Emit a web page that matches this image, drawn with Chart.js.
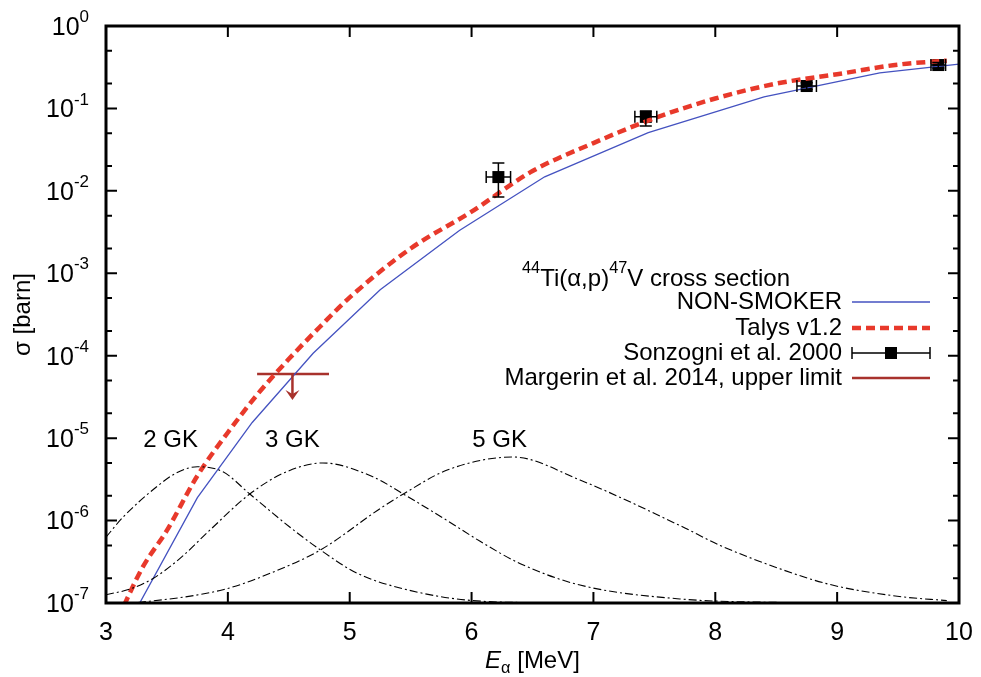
<!DOCTYPE html>
<html>
<head>
<meta charset="utf-8">
<script src="https://cdn.jsdelivr.net/npm/chart.js@4.4.0/dist/chart.umd.min.js"></script>
<style>
  body { margin: 0; background: #fff; }
  #wrap { width: 981px; height: 677px; }
</style>
</head>
<body>
<div id="wrap"><canvas id="myChart"></canvas></div>
<script>
// NON-SMOKER calculation (thin blue line)
var nsEnergy = [3.2, 3.75, 4.2, 4.7, 5.25, 5.9, 6.6, 7.45, 8.4, 9.35, 10.0];
var nsSigma = [6.2e-8, 1.9e-6, 1.55e-5, 1.07e-4, 6.3e-4, 3.3e-3, 1.48e-2, 5.1e-2, 0.138, 0.27, 0.345];

// Talys v1.2 (red dashed)
var talysEnergy = [3.1, 3.3, 3.5, 3.75, 4.0, 4.25, 4.5, 4.75, 5.0, 5.5, 6.0, 6.5, 7.0, 7.5, 8.0, 8.5, 9.0, 9.5, 9.9];
var talysSigma = [6.6e-8, 2.7e-7, 7.6e-7, 3.5e-6, 1.17e-5, 3.5e-5, 9.1e-5, 2.2e-4, 5.1e-4, 2.0e-3, 5.6e-3, 1.74e-2, 3.8e-2, 7.6e-2, 0.132, 0.20, 0.26, 0.34, 0.38];

// Sonzogni et al. 2000 data with error bars
var sonEnergy = [6.22, 7.43, 8.75, 9.83];
var sonSigma = [0.0147, 0.079, 0.187, 0.336];
var sonEnergyErr = [0.10, 0.09, 0.08, 0.06];
var sonSigmaLo = [0.0084, 0.061, 0.17, 0.31];
var sonSigmaHi = [0.0218, 0.093, 0.205, 0.36];

// Margerin et al. 2014 upper limit
var limEnergy = [4.24, 4.83];
var limCenter = 4.53;
var limSigma = 6.0e-5;
var limArrowTo = 2.9e-5;

// Gamow windows (arbitrary units)
var gk2Energy = [3.0, 3.14, 3.42, 3.58, 3.75, 3.96, 4.18, 4.51, 4.76, 5.06, 5.47, 6.01, 6.72];
var gk2Sigma = [6.3e-7, 1.1e-6, 2.6e-6, 3.8e-6, 4.5e-6, 3.9e-6, 2.1e-6, 8.3e-7, 4.4e-7, 2.3e-7, 1.45e-7, 1.07e-7, 1.0e-7];
var gk3Energy = [3.0, 3.2, 3.39, 3.61, 3.85, 4.18, 4.48, 4.78, 5.19, 5.44, 5.8, 6.07, 6.4, 6.89, 7.71, 8.69];
var gk3Sigma = [1.26e-7, 1.48e-7, 2.0e-7, 3.5e-7, 7.6e-7, 2.1e-6, 3.9e-6, 5.0e-6, 3.4e-6, 2.1e-6, 1.0e-6, 5.6e-7, 3.0e-7, 1.65e-7, 1.12e-7, 1.0e-7];
var gk5Energy = [3.0, 3.28, 3.96, 4.35, 4.76, 5.25, 5.44, 5.8, 6.34, 6.89, 7.71, 8.04, 8.53, 8.96, 9.51, 9.9];
var gk5Sigma = [9.5e-8, 1.02e-7, 1.45e-7, 2.3e-7, 4.4e-7, 1.4e-6, 2.1e-6, 4.1e-6, 5.9e-6, 3.1e-6, 8.7e-7, 5.0e-7, 2.6e-7, 1.65e-7, 1.2e-7, 1.07e-7];

// tick labels
var xTicks = [3, 4, 5, 6, 7, 8, 9, 10];
var yExponents = [0, -1, -2, -3, -4, -5, -6, -7];

var FONT = "'Liberation Sans', Arial, sans-serif";
var blue = '#4452c0';
var red = '#e8392b';
var darkRed = '#a8322c';

function toPoints(xs, ys) {
    return xs.map(function (x, i) { return { x: x, y: ys[i] }; });
}

// draws text pieces with super/subscripts
function drawRich(ctx, parts, x, y, align, size) {
    var w = 0;
    parts.forEach(function (p) {
        var s = (p.sup || p.sub) ? size * 0.68 : size;
        ctx.font = (p.italic ? 'italic ' : '') + s + 'px ' + FONT;
        p._w = ctx.measureText(p.t).width;
        w += p._w;
    });
    var cx = align === 'right' ? x - w : (align === 'center' ? x - w / 2 : x);
    ctx.textAlign = 'left';
    ctx.textBaseline = 'middle';
    parts.forEach(function (p) {
        var s = (p.sup || p.sub) ? size * 0.68 : size;
        ctx.font = (p.italic ? 'italic ' : '') + s + 'px ' + FONT;
        var dy = p.sup ? -size * 0.42 : (p.sub ? size * 0.32 : 0);
        ctx.fillText(p.t, cx, y + dy);
        cx += p._w;
    });
    return w;
}

var gnuplotFrame = {
    id: 'gnuplotFrame',
    afterDraw: function (chart) {
        var ctx = chart.ctx;
        var a = chart.chartArea;
        var xs = chart.scales.x, ys = chart.scales.y;
        ctx.save();
        ctx.fillStyle = '#000';
        ctx.strokeStyle = '#000';

        // error bars for Sonzogni points
        ctx.lineWidth = 1.5;
        for (var i = 0; i < sonEnergy.length; i++) {
            var px = xs.getPixelForValue(sonEnergy[i]);
            var py = ys.getPixelForValue(sonSigma[i]);
            var x0 = xs.getPixelForValue(sonEnergy[i] - sonEnergyErr[i]);
            var x1 = xs.getPixelForValue(sonEnergy[i] + sonEnergyErr[i]);
            var yLo = ys.getPixelForValue(sonSigmaLo[i]);
            var yHi = ys.getPixelForValue(sonSigmaHi[i]);
            ctx.beginPath();
            ctx.moveTo(x0, py); ctx.lineTo(x1, py);
            ctx.moveTo(x0, py - 6); ctx.lineTo(x0, py + 6);
            ctx.moveTo(x1, py - 6); ctx.lineTo(x1, py + 6);
            ctx.moveTo(px, yLo); ctx.lineTo(px, yHi);
            ctx.moveTo(px - 6, yLo); ctx.lineTo(px + 6, yLo);
            ctx.moveTo(px - 6, yHi); ctx.lineTo(px + 6, yHi);
            ctx.stroke();
        }

        // upper limit arrow
        var ax = xs.getPixelForValue(limCenter);
        var ay0 = ys.getPixelForValue(limSigma);
        var ay1 = ys.getPixelForValue(limArrowTo);
        ctx.strokeStyle = darkRed;
        ctx.fillStyle = darkRed;
        ctx.lineWidth = 2.5;
        ctx.beginPath();
        ctx.moveTo(ax, ay0); ctx.lineTo(ax, ay1 - 6);
        ctx.stroke();
        ctx.beginPath();
        ctx.moveTo(ax - 7, ay1 - 10); ctx.lineTo(ax, ay1); ctx.lineTo(ax + 7, ay1 - 10);
        ctx.lineTo(ax, ay1 - 6); ctx.closePath();
        ctx.fill();

        // frame
        ctx.strokeStyle = '#000';
        ctx.fillStyle = '#000';
        ctx.lineWidth = 3;
        ctx.strokeRect(a.left, a.top, a.right - a.left, a.bottom - a.top);

        // x ticks (bottom and top, pointing inward)
        ctx.lineWidth = 2;
        ctx.beginPath();
        xTicks.forEach(function (v) {
            var px = xs.getPixelForValue(v);
            ctx.moveTo(px, a.bottom); ctx.lineTo(px, a.bottom - 11);
            ctx.moveTo(px, a.top); ctx.lineTo(px, a.top + 11);
        });
        // y ticks: decades plus 2 and 5 minor ticks
        yExponents.forEach(function (e) {
            var py = ys.getPixelForValue(Math.pow(10, e));
            ctx.moveTo(a.left, py); ctx.lineTo(a.left + 11, py);
            ctx.moveTo(a.right, py); ctx.lineTo(a.right - 11, py);
            if (e > -7) {
                [0.2, 0.5].forEach(function (m) {
                    var pm = ys.getPixelForValue(m * Math.pow(10, e));
                    ctx.moveTo(a.left, pm); ctx.lineTo(a.left + 6, pm);
                    ctx.moveTo(a.right, pm); ctx.lineTo(a.right - 6, pm);
                });
            }
        });
        ctx.stroke();

        // tick labels
        ctx.fillStyle = '#000';
        xTicks.forEach(function (v) {
            drawRich(ctx, [{ t: String(v) }], xs.getPixelForValue(v), a.bottom + 30, 'center', 25);
        });
        yExponents.forEach(function (e) {
            var py = ys.getPixelForValue(Math.pow(10, e));
            drawRich(ctx, [{ t: '10' }, { t: String(e), sup: true }], a.left - 17, py + 2, 'right', 25);
        });

        // axis titles
        drawRich(ctx, [{ t: 'E', italic: true }, { t: '\u03b1', sub: true }, { t: ' [MeV]' }], (a.left + a.right) / 2, a.bottom + 58, 'center', 24);
        ctx.save();
        ctx.translate(23, (a.top + a.bottom) / 2);
        ctx.rotate(-Math.PI / 2);
        drawRich(ctx, [{ t: '\u03c3 [barn]' }], 0, 0, 'center', 24);
        ctx.restore();

        // Gamow window labels
        var gkLabels = [['2 GK', 3.53], ['3 GK', 4.53], ['5 GK', 6.23]];
        gkLabels.forEach(function (g) {
            drawRich(ctx, [{ t: g[0] }], xs.getPixelForValue(g[1]), ys.getPixelForValue(1e-5) + 2, 'center', 24);
        });

        // legend
        var tx = 842, l0 = 852, l1 = 930;
        drawRich(ctx, [{ t: '44', sup: true }, { t: 'Ti(\u03b1,p)' }, { t: '47', sup: true }, { t: 'V cross section' }], 790, 279, 'right', 24);
        var rows = [302, 328, 353, 378];
        drawRich(ctx, [{ t: 'NON-SMOKER' }], tx, rows[0], 'right', 24);
        drawRich(ctx, [{ t: 'Talys v1.2' }], tx, rows[1], 'right', 24);
        drawRich(ctx, [{ t: 'Sonzogni et al. 2000' }], tx, rows[2], 'right', 24);
        drawRich(ctx, [{ t: 'Margerin et al. 2014, upper limit' }], tx, rows[3], 'right', 24);

        ctx.strokeStyle = blue; ctx.lineWidth = 1.3;
        ctx.beginPath(); ctx.moveTo(l0, rows[0]); ctx.lineTo(l1, rows[0]); ctx.stroke();
        ctx.strokeStyle = red; ctx.lineWidth = 4.5; ctx.setLineDash([9, 5]);
        ctx.beginPath(); ctx.moveTo(l0, rows[1]); ctx.lineTo(l1, rows[1]); ctx.stroke();
        ctx.setLineDash([]);
        ctx.strokeStyle = '#000'; ctx.lineWidth = 1.5;
        ctx.beginPath();
        ctx.moveTo(l0, rows[2]); ctx.lineTo(l1, rows[2]);
        ctx.moveTo(l0, rows[2] - 6); ctx.lineTo(l0, rows[2] + 6);
        ctx.moveTo(l1, rows[2] - 6); ctx.lineTo(l1, rows[2] + 6);
        ctx.stroke();
        ctx.fillRect((l0 + l1) / 2 - 6, rows[2] - 6, 12, 12);
        ctx.strokeStyle = darkRed; ctx.lineWidth = 2.5;
        ctx.beginPath(); ctx.moveTo(l0, rows[3]); ctx.lineTo(l1, rows[3]); ctx.stroke();

        ctx.restore();
    }
};

function gamowSet(xs, ys) {
    return {
        data: toPoints(xs, ys),
        showLine: true,
        borderColor: '#000',
        borderWidth: 1.1,
        borderDash: [8, 3, 2, 3],
        pointRadius: 0,
        cubicInterpolationMode: 'monotone',
        fill: false
    };
}

var ctx = document.getElementById('myChart').getContext('2d');
var myChart = new Chart(ctx, {
    type: 'scatter',
    data: {
        datasets: [
            gamowSet(gk2Energy, gk2Sigma),
            gamowSet(gk3Energy, gk3Sigma),
            gamowSet(gk5Energy, gk5Sigma),
            {
                data: toPoints(nsEnergy, nsSigma),
                showLine: true,
                borderColor: blue,
                borderWidth: 1.3,
                pointRadius: 0
            },
            {
                data: toPoints(talysEnergy, talysSigma),
                showLine: true,
                borderColor: red,
                borderWidth: 4.5,
                borderDash: [9, 5],
                pointRadius: 0,
                cubicInterpolationMode: 'monotone'
            },
            {
                data: toPoints(limEnergy, [limSigma, limSigma]),
                showLine: true,
                borderColor: darkRed,
                borderWidth: 2.5,
                pointRadius: 0
            },
            {
                data: toPoints(sonEnergy, sonSigma),
                pointStyle: 'rect',
                pointRadius: 8.5,
                backgroundColor: '#000',
                borderColor: '#000',
                borderWidth: 0
            }
        ]
    },
    options: {
        responsive: true,
        maintainAspectRatio: false,
        animation: false,
        layout: { padding: { left: 106, right: 22, top: 26, bottom: 74 } },
        scales: {
            x: { type: 'linear', min: 3, max: 10, display: false },
            y: { type: 'logarithmic', min: 1e-7, max: 1, display: false }
        },
        plugins: {
            legend: { display: false },
            tooltip: { enabled: false }
        }
    },
    plugins: [gnuplotFrame]
});
</script>
</body>
</html>
